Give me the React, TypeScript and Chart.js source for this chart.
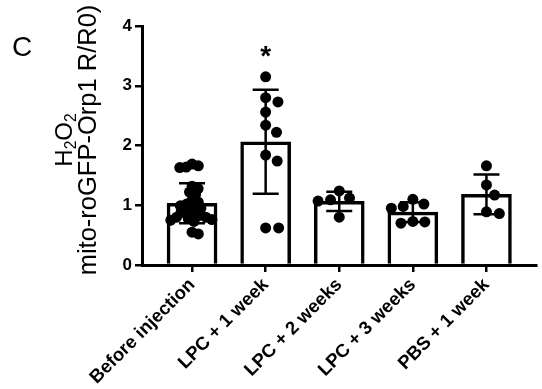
import React, { useEffect, useRef } from "react";
import { Chart, registerables } from "chart.js";

Chart.register(...registerables);

const categories = ["Before injection", "LPC + 1 week", "LPC + 2 weeks", "LPC + 3 weeks", "PBS + 1 week"];
const beforeInjection = [1.69, 1.64, 1.63, 1.66, 1.32, 1.28, 1.22, 1.18, 1.08, 1.05, 1.02, 0.99, 0.97, 0.95, 0.9, 0.88, 0.85, 0.83, 0.8, 0.8, 0.78, 0.76, 0.75, 0.73, 0.55, 0.52];
const lpc1Week = [3.15, 2.73, 2.8, 2.56, 2.34, 2.22, 1.84, 1.74, 0.62, 0.62];
const lpc2Weeks = [1.24, 1.09, 1.07, 1.12, 0.8];
const lpc3Weeks = [1.1, 1.02, 0.98, 0.95, 0.72, 0.7, 0.73];
const pbs1Week = [1.66, 1.34, 1.17, 0.86, 0.89];
const groups = [beforeInjection, lpc1Week, lpc2Weeks, lpc3Weeks, pbs1Week];
const yTicks = [0, 1, 2, 3, 4];
const significance = ["", "*", "", "", ""];
const panelLetter = "C";

const FONT = "'Liberation Sans', Arial, sans-serif";

function mean(a: number[]) {
  return a.reduce((s, v) => s + v, 0) / a.length;
}
function sd(a: number[]) {
  const m = mean(a);
  return Math.sqrt(a.reduce((s, v) => s + (v - m) * (v - m), 0) / (a.length - 1));
}

const errorBarPlugin = {
  id: "errorBars",
  afterDatasetDraw(chart: any, args: any) {
    if (args.index !== 0) return;
    const ctx = chart.ctx;
    const xs = chart.scales.x;
    const ys = chart.scales.y;
    ctx.save();
    ctx.strokeStyle = "#000";
    ctx.lineWidth = 2.5;
    groups.forEach((g, i) => {
      const m = mean(g);
      const s = sd(g);
      const x = xs.getPixelForValue(i);
      const yt = ys.getPixelForValue(m + s);
      const yb = ys.getPixelForValue(m - s);
      ctx.beginPath();
      ctx.moveTo(x, yt);
      ctx.lineTo(x, yb);
      ctx.moveTo(x - 13, yt);
      ctx.lineTo(x + 13, yt);
      ctx.moveTo(x - 13, yb);
      ctx.lineTo(x + 13, yb);
      ctx.stroke();
    });
    ctx.restore();
  },
};

const textPlugin = {
  id: "texts",
  afterDraw(chart: any) {
    const ctx = chart.ctx;
    const xs = chart.scales.x;
    const ys = chart.scales.y;
    ctx.save();
    ctx.fillStyle = "#000";
    ctx.font = `28px ${FONT}`;
    ctx.textAlign = "left";
    ctx.textBaseline = "alphabetic";
    ctx.fillText(panelLetter, 12, 56);
    ctx.font = `bold 28px ${FONT}`;
    ctx.textAlign = "center";
    groups.forEach((g, i) => {
      if (!significance[i]) return;
      const top = ys.getPixelForValue(Math.max(...g));
      ctx.fillText(significance[i], xs.getPixelForValue(i), top - 12);
    });
    const cy = 140;
    const fs = 24;
    ctx.save();
    ctx.translate(72, cy);
    ctx.rotate(-Math.PI / 2);
    ctx.textAlign = "left";
    const parts: [string, boolean][] = [["H", false], ["2", true], ["O", false], ["2", true]];
    let total = 0;
    parts.forEach(([t, sub]) => {
      ctx.font = `${sub ? fs * 0.65 : fs}px ${FONT}`;
      total += ctx.measureText(t).width;
    });
    let px = -total / 2;
    parts.forEach(([t, sub]) => {
      ctx.font = `${sub ? fs * 0.65 : fs}px ${FONT}`;
      ctx.fillText(t, px, sub ? 4 : 0);
      px += ctx.measureText(t).width;
    });
    ctx.restore();
    ctx.save();
    ctx.translate(96, cy);
    ctx.rotate(-Math.PI / 2);
    ctx.textAlign = "center";
    ctx.font = `25.5px ${FONT}`;
    ctx.fillText("mito-roGFP-Orp1 R/R0)", 0, 0);
    ctx.restore();
    ctx.restore();
  },
};

function placeSwarm(pys: number[], D: number) {
  const placed: { x: number; y: number; i: number }[] = [];
  const order = pys.map((_, i) => i).sort((a, b) => pys[a] - pys[b]);
  for (const i of order) {
    const py = pys[i];
    const cands = [0];
    for (const p of placed) {
      const dy = Math.abs(p.y - py);
      if (dy < D) {
        const dx = Math.sqrt(D * D - dy * dy);
        cands.push(p.x + dx + 0.01, p.x - dx - 0.01);
      }
    }
    cands.sort((a, b) => Math.abs(a) - Math.abs(b));
    let best = 0;
    for (const c of cands) {
      if (placed.every((p) => Math.hypot(p.x - c, p.y - py) >= D - 0.02)) {
        best = c;
        break;
      }
    }
    placed.push({ x: best, y: py, i });
  }
  return placed;
}

function swarm(chart: any) {
  const xs = chart.scales.x;
  const ys = chart.scales.y;
  const maxHalf = 22;
  const pts: { x: number; y: number }[] = [];
  groups.forEach((vals, gi) => {
    const cx = xs.getPixelForValue(gi);
    const pys = vals.map((v) => ys.getPixelForValue(v));
    let D = 13;
    let placed = placeSwarm(pys, D);
    while (D > 6 && Math.max(...placed.map((p) => Math.abs(p.x))) > maxHalf) {
      D -= 0.5;
      placed = placeSwarm(pys, D);
    }
    placed.forEach((p) => pts.push({ x: xs.getValueForPixel(cx + p.x), y: vals[p.i] }));
  });
  chart.data.datasets[1].data = pts;
  chart.update();
}

export default function App() {
  const ref = useRef<HTMLCanvasElement>(null);
  useEffect(() => {
    if (!ref.current) return;
    const chart = new Chart(ref.current, {
      type: "bar",
      data: {
        datasets: [
          {
            type: "bar",
            data: groups.map((g, i) => ({ x: i, y: mean(g) })),
            backgroundColor: "#fff",
            borderColor: "#000",
            borderWidth: 3.5,
            barThickness: 50,
            order: 2,
          } as any,
          {
            type: "scatter",
            data: groups.map((g, i) => ({ x: i, y: mean(g) })),
            backgroundColor: "#000",
            borderWidth: 0,
            pointRadius: 5.5,
            order: 1,
          } as any,
        ],
      },
      options: {
        responsive: false,
        animation: false,
        layout: { padding: { left: 0, top: 26, right: 0, bottom: 0 } },
        plugins: { legend: { display: false }, tooltip: { enabled: false } },
        scales: {
          x: {
            type: "linear",
            offset: false,
            min: -0.68,
            max: 4.68,
            afterBuildTicks(scale: any) {
              scale.ticks = categories.map((_, i) => ({ value: i }));
            },
            afterFit(scale: any) {
              scale.height = 124;
            },
            ticks: {
              minRotation: 45,
              maxRotation: 45,
              autoSkip: false,
              color: "#000",
              padding: 2,
              font: { family: FONT, size: 18.5, weight: "bold" },
              callback: (v: any) => categories[v] ?? "",
            },
            grid: { offset: false, drawOnChartArea: false, drawTicks: true, tickLength: 7, lineWidth: 2.5, color: "#000" },
            border: { display: true, color: "#000", width: 3 },
          },
          y: {
            min: 0,
            max: 4,
            afterBuildTicks(scale: any) {
              scale.ticks = yTicks.map((v) => ({ value: v }));
            },
            afterFit(scale: any) {
              scale.width = 142;
            },
            ticks: {
              color: "#000",
              padding: 3,
              font: { family: FONT, size: 17, weight: "bold" },
            },
            grid: { drawOnChartArea: false, drawTicks: true, tickLength: 7, lineWidth: 2.5, color: "#000" },
            border: { display: true, color: "#000", width: 3 },
          },
        },
      } as any,
      plugins: [errorBarPlugin, textPlugin],
    });
    swarm(chart);
    return () => chart.destroy();
  }, []);
  return (
    <div style={{ position: "absolute", left: 0, top: 0, width: 542, height: 389, background: "#fff" }}>
      <canvas ref={ref} width={542} height={389} />
    </div>
  );
}
